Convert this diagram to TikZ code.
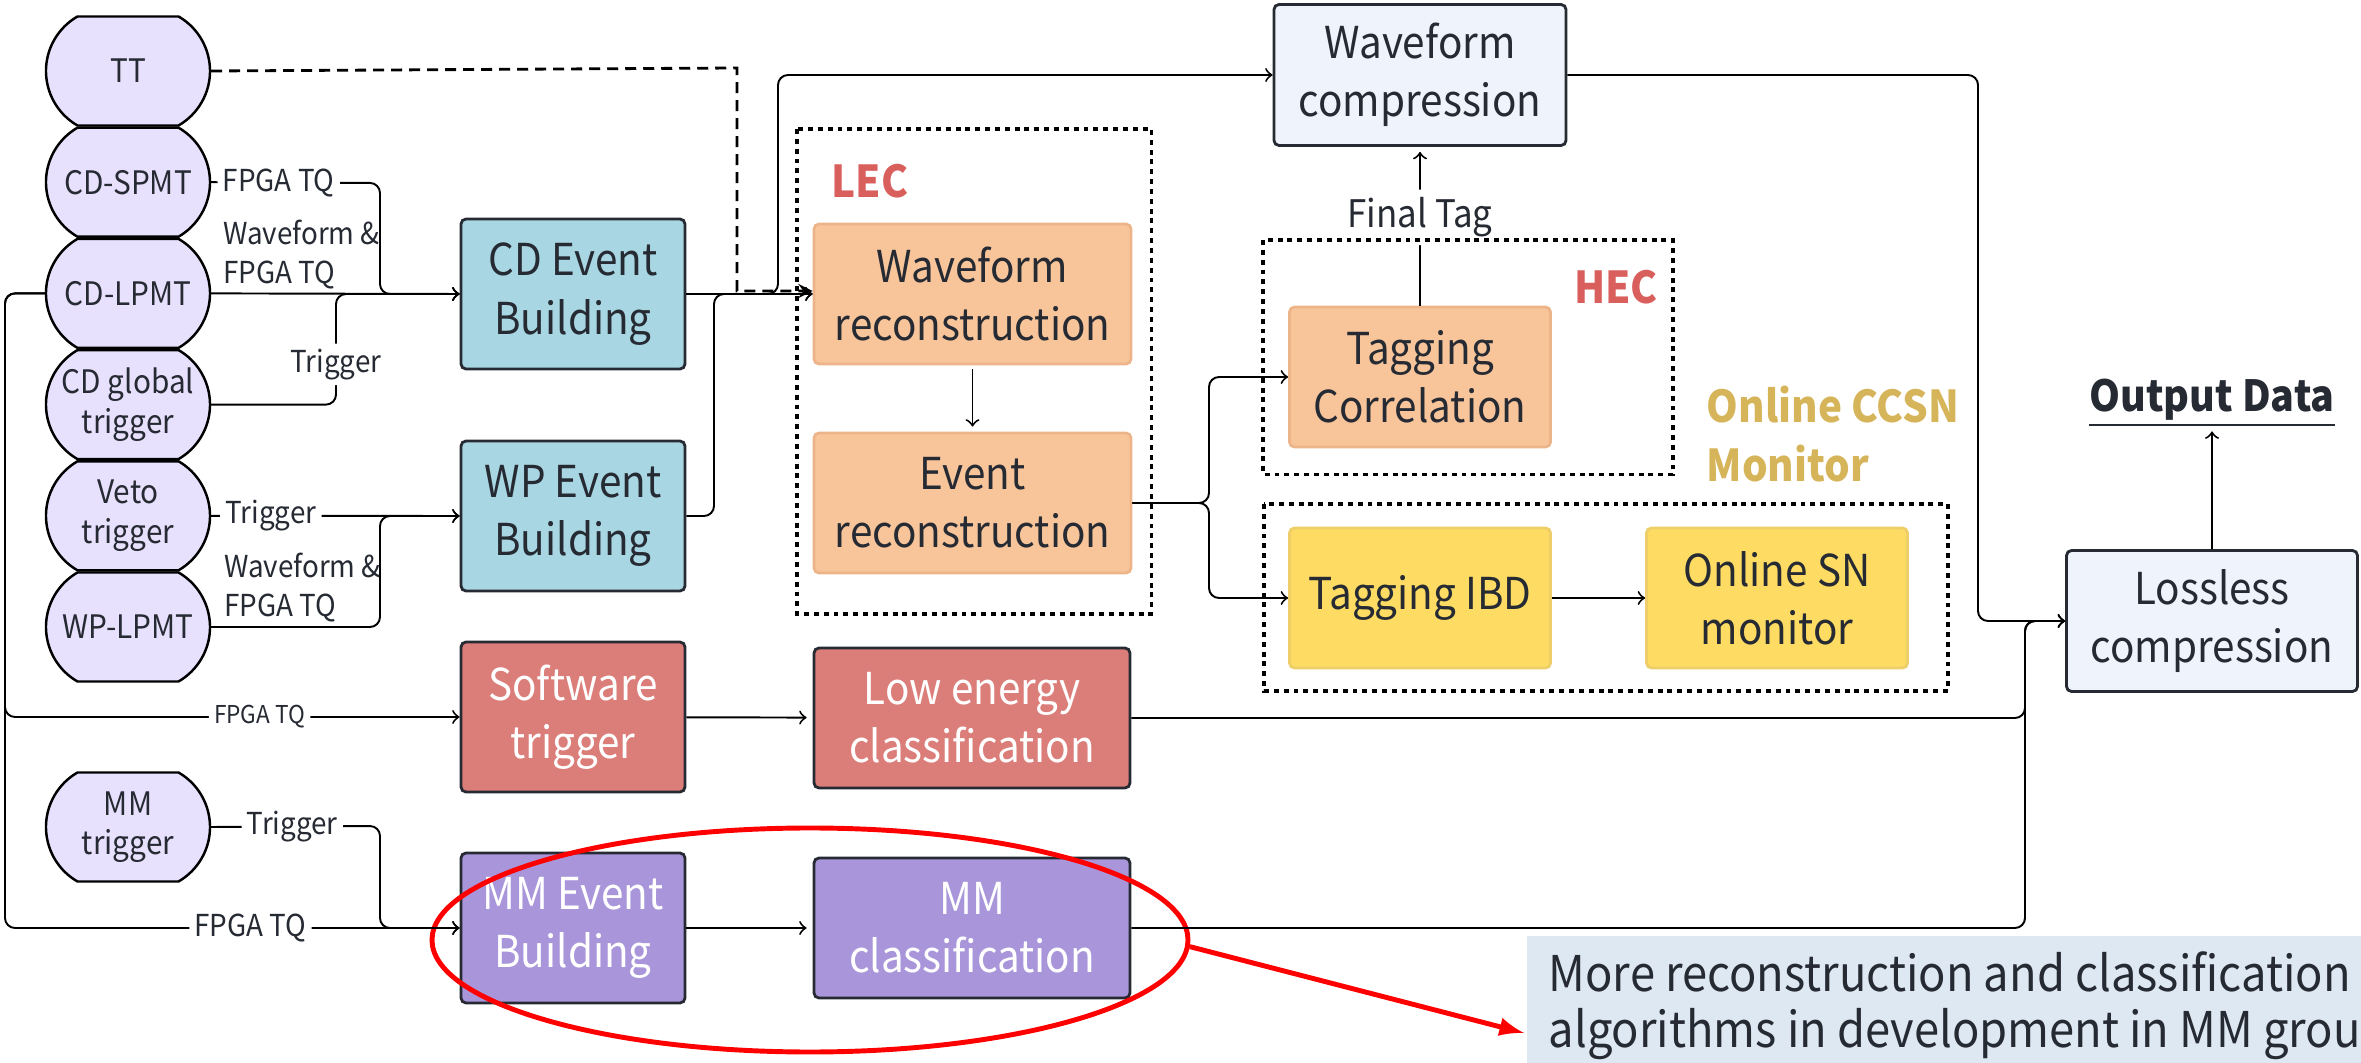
\documentclass[tikz,border=0pt]{standalone}
\usepackage{fontspec}
\setmainfont{Noto Sans CJK SC}[FakeStretch=0.92]
\usepackage{tikz}
\usetikzlibrary{shapes.geometric, shapes.misc, arrows, positioning}
\definecolor{sensorfill}{HTML}{E8E1FD}
\definecolor{buildfill}{HTML}{A8D6E2}
\definecolor{softfill}{HTML}{DB7D79}
\definecolor{mmfill}{HTML}{A996DA}
\definecolor{lecfill}{HTML}{F8C59B}
\definecolor{lecdraw}{HTML}{EDB48A}
\definecolor{snfill}{HTML}{FEDC64}
\definecolor{sndraw}{HTML}{EDCE68}
\definecolor{compfill}{HTML}{EEF3FC}
\definecolor{notefill}{HTML}{DEE8F3}
\definecolor{lecred}{HTML}{D95F5D}
\definecolor{ccsngold}{HTML}{D6B55A}
\definecolor{darktext}{HTML}{262A33}
\tikzstyle{sensor} = [rounded rectangle, rounded rectangle arc length=120, minimum width=1.64cm, minimum height=1.09cm, inner sep=0pt, align=center, draw=black, line width=0.7pt, fill=sensorfill, text=darktext, font=\fontsize{9.2}{11.2}\selectfont]
\tikzstyle{block} = [rectangle, rounded corners=0.05cm, minimum width=2.24cm, minimum height=1.5cm, inner sep=0pt, align=center, draw=darktext, line width=0.8pt, text=darktext, font=\fontsize{12.5}{16.6}\selectfont]
\tikzstyle{build} = [block, fill=buildfill]
\tikzstyle{soft} = [block, fill=softfill, text=white]
\tikzstyle{mm} = [block, fill=mmfill, text=white]
\tikzstyle{lec} = [block, fill=lecfill, draw=lecdraw, minimum width=3.17cm, minimum height=1.4cm]
\tikzstyle{sn} = [block, fill=snfill, draw=sndraw, minimum width=2.61cm, minimum height=1.4cm]
\tikzstyle{compress} = [block, fill=compfill, minimum width=2.92cm, minimum height=1.41cm]
\tikzstyle{dotbox} = [draw=black, line width=1.1pt, dash pattern=on 1.4pt off 1.4pt]
\tikzstyle{boxtitle} = [inner sep=0pt, font=\bfseries\fontsize{12.5}{16.6}\selectfont]
\tikzstyle{tag} = [fill=white, inner sep=1.5pt, text=darktext, font=\fontsize{8.6}{11.2}\selectfont]
\tikzstyle{wavetag} = [inner sep=1pt, align=left, anchor=south west, text=darktext, font=\fontsize{8.6}{11.2}\selectfont]
\tikzstyle{arrow} = [line width=0.55pt, ->, >=to, rounded corners=0.1cm]
\tikzstyle{dasharrow} = [line width=0.8pt, ->, >=stealth, dash pattern=on 0.11cm off 0.07cm]
\tikzstyle{redarrow} = [draw=red, line width=1.4pt, -latex]

\begin{document}
\begin{tikzpicture}[node distance=1.112cm]
\useasboundingbox (0,0) rectangle (23.61,-10.63);

\node (tt) [sensor] at (1.28,-0.71) {TT};
\node (cdspmt) [sensor, below of=tt] {CD-SPMT};
\node (cdlpmt) [sensor, below of=cdspmt] {CD-LPMT};
\node (cdglobal) [sensor, below of=cdlpmt] {CD global\\trigger};
\node (veto) [sensor, below of=cdglobal] {Veto\\trigger};
\node (wplpmt) [sensor, below of=veto] {WP-LPMT};
\node (mmtrig) [sensor] at (1.28,-8.27) {MM\\trigger};

\node (cdev) [build] at (5.73,-2.94) {CD Event\\Building};
\node (wpev) [build] at (5.73,-5.16) {WP Event\\Building};
\node (softtrig) [soft] at (5.73,-7.17) {Software\\trigger};
\node (mmev) [mm] at (5.73,-9.28) {MM Event\\Building};
\node (lowe) [soft, minimum width=3.16cm, minimum height=1.4cm] at (9.72,-7.18) {Low energy\\classification};
\node (mmcls) [mm, minimum width=3.16cm, minimum height=1.4cm] at (9.72,-9.28) {MM\\classification};

\node (wfrec) [lec] at (9.725,-2.94) {Waveform\\reconstruction};
\node (evrec) [lec] at (9.725,-5.03) {Event\\reconstruction};
\node (tagcor) [lec, minimum width=2.61cm] at (14.2,-3.77) {Tagging\\Correlation};
\node (tagibd) [sn] at (14.2,-5.98) {Tagging IBD};
\node (snmon) [sn] at (17.77,-5.98) {Online SN\\monitor};
\node (wfcomp) [compress] at (14.2,-0.75) {Waveform\\compression};
\node (lossless) [compress, minimum width=2.91cm] at (22.12,-6.21) {Lossless\\compression};
\node (output) [inner sep=1pt, text=darktext, font=\bfseries\fontsize{12.2}{15}\selectfont] at (22.12,-4.03) {\underline{Output Data}};

\node (leclabel) [boxtitle, text=lecred] at (8.70,-1.81) {LEC};
\node (heclabel) [boxtitle, text=lecred] at (16.16,-2.87) {HEC};
\node (ccsnlabel) [boxtitle, text=ccsngold, align=left, anchor=west] at (17.06,-4.34) {Online CCSN\\Monitor};

\node (mmgroup) [ellipse, draw=red, line width=1.4pt, minimum width=7.56cm, minimum height=2.24cm] at (8.10,-9.40) {};
\node (note) [anchor=north west, fill=notefill, align=left, inner xsep=0.22cm, inner ysep=0.15cm, minimum height=1.4cm, text=darktext, font=\fontsize{14}{16}\selectfont] at (15.26,-9.35) {More reconstruction and classification\\algorithms in development in MM group};
\coordinate (notetip) at (15.24,-10.33);

\draw [dasharrow] (tt.east) -- (7.37,-0.68) |- ([yshift=0.03cm]wfrec.west);
\draw [arrow] (cdspmt.east) -- node[tag, pos=0.4] {FPGA TQ} (3.80,-1.83) |- (cdev.west);
\draw [arrow] (cdlpmt.east) -- node[wavetag, pos=0.03] {Waveform \&\\FPGA TQ} (cdev.west);
\draw [arrow] (cdglobal.east) -| node[tag, pos=0.77] {Trigger} (3.36,-3.3) |- (cdev.west);
\draw [arrow] (veto.east) -- node[tag, pos=0.24] {Trigger} (wpev.west);
\draw [arrow] (wplpmt.east) -- node[wavetag, pos=0.05] {Waveform \&\\FPGA TQ} (3.80,-6.27) |- (wpev.west);
\draw [arrow] (mmtrig.east) -- node[tag, pos=0.48] {Trigger} (3.80,-8.26) |- (mmev.west);
\draw [arrow] (cdlpmt.west) -| (0.05,-5) |- node[tag, pos=0.78, font=\fontsize{7}{9}\selectfont] {FPGA TQ} (softtrig.west);
\draw [arrow] (cdlpmt.west) -| (0.05,-8) |- node[tag, pos=0.77] {FPGA TQ} (mmev.west);

\draw [arrow] (cdev.east) -- (wfrec.west);
\draw [arrow] (wpev.east) -| (7.14,-4) |- (wfrec.west);
\draw [arrow] (cdev.east) -| (7.78,-1.5) |- (wfcomp.west);
\draw [arrow, shorten <=0.04cm, shorten >=0.05cm] (wfrec.south) -- (evrec.north);
\draw [arrow] (evrec.east) -- (12.09,-5.03) |- (tagcor.west);
\draw [arrow] (evrec.east) -- (12.09,-5.03) |- (tagibd.west);
\draw [arrow, shorten >=0.05cm] (tagcor.north) -- node[tag, pos=0.556, inner ysep=0.08cm, font=\fontsize{10.8}{13}\selectfont] {Final Tag} (wfcomp.south);
\draw [arrow] (tagibd) -- (snmon);
\draw [arrow, shorten >=0.06cm] (softtrig) -- (lowe);
\draw [arrow, shorten >=0.06cm] (mmev) -- (mmcls);
\draw [arrow] (wfcomp.east) -| (19.78,-4) |- (lossless.west);
\draw [arrow] (lowe.east) -| (20.25,-6.5) |- (lossless.west);
\draw [arrow] (mmcls.east) -| (20.25,-8) |- (lossless.west);
\draw [arrow] (lossless.north) -- (output.south);
\draw [redarrow] (mmgroup.-1.5) -- (notetip);

\draw [dotbox] (7.97,-1.29) rectangle (11.515,-6.14);
\draw [dotbox] (12.63,-2.40) rectangle (16.73,-4.745);
\draw [dotbox] (12.64,-5.04) rectangle (19.48,-6.91);
\end{tikzpicture}
\end{document}
